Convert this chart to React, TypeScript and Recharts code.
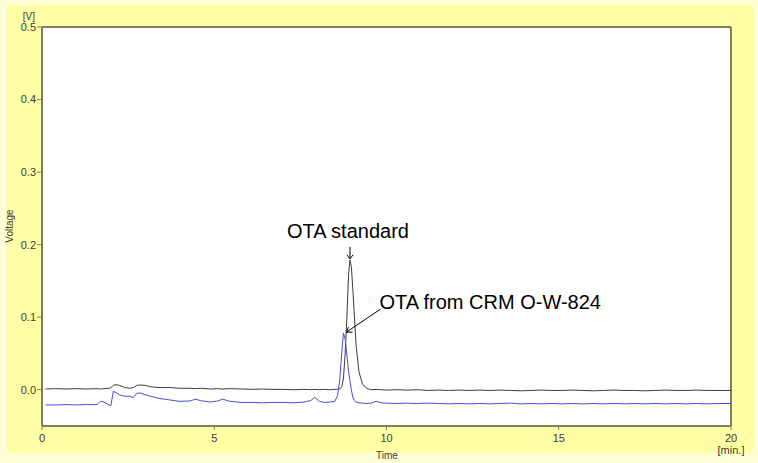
import React from 'react';
import {
  LineChart,
  Line,
  XAxis,
  YAxis,
  CartesianGrid,
  ReferenceLine,
  ReferenceDot,
} from 'recharts';

// retention time [min.]
const times = [
  0.1, 0.4, 0.7, 1.0, 1.3, 1.6, 1.7, 1.8, 1.95, 2.0, 2.07, 2.15, 2.25, 2.4, 2.55, 2.65, 2.75, 2.85,
  3.0, 3.15, 3.4, 3.7, 4.0, 4.3, 4.45, 4.6, 4.9, 5.1, 5.25, 5.45, 5.8, 6.1, 6.4, 6.7, 7.0, 7.3,
  7.6, 7.8, 7.92, 8.05, 8.2, 8.35, 8.5, 8.58, 8.64, 8.7, 8.75, 8.8, 8.85, 8.9, 8.94, 8.98, 9.02,
  9.07, 9.12, 9.2, 9.3, 9.42, 9.55, 9.7, 9.85, 10.0, 10.3, 10.6, 10.9, 11.2, 11.5, 11.8, 12.1,
  12.4, 12.7, 13.0, 13.3, 13.6, 13.9, 14.2, 14.5, 14.8, 15.1, 15.4, 15.7, 16.0, 16.3, 16.6, 16.9,
  17.2, 17.5, 17.8, 18.1, 18.4, 18.7, 19.0, 19.3, 19.6, 20.0,
];

// OTA standard (black trace) [V]
const standard = [
  0.001, 0.0015, 0.001, 0.0015, 0.001, 0.0015, 0.001, 0.0015, 0.002, 0.003, 0.006, 0.007, 0.006,
  0.003, 0.002, 0.003, 0.006, 0.0065, 0.006, 0.004, 0.003, 0.003, 0.002, 0.002, 0.0015, 0.002,
  0.001, 0.0015, 0.001, 0.0015, 0.001, 0.0005, 0.001, 0.0005, 0.0005, 0.0, 0.0005, 0.0, 0.0005,
  0.0, 0.0005, 0.0, 0.0005, 0.0005, 0.001, 0.004, 0.015, 0.05, 0.1, 0.16, 0.179, 0.17, 0.14, 0.1,
  0.06, 0.025, 0.008, 0.002, 0.0, 0.0005, 0.0, -0.0005, 0.0, -0.0005, 0.0, -0.001, -0.0005, -0.001,
  -0.0005, -0.001, -0.0005, -0.001, -0.0005, -0.001, -0.0015, -0.001, -0.0005, -0.001, -0.001,
  -0.0005, -0.001, -0.0015, -0.001, -0.0005, -0.001, -0.001, -0.0015, -0.001, -0.0005, -0.001,
  -0.001, -0.0005, -0.001, -0.001, -0.001,
];

// OTA from CRM O-W-824 (blue trace) [V]
const crm = [
  -0.021, -0.021, -0.0205, -0.021, -0.0205, -0.0205, -0.016, -0.017, -0.021, -0.022, -0.002,
  -0.004, -0.007, -0.009, -0.009, -0.011, -0.005, -0.0045, -0.007, -0.009, -0.012, -0.014, -0.016,
  -0.0155, -0.013, -0.015, -0.017, -0.0155, -0.013, -0.016, -0.0175, -0.0175, -0.018, -0.0175,
  -0.0175, -0.018, -0.017, -0.015, -0.0105, -0.016, -0.0175, -0.017, -0.016, -0.008, 0.012, 0.05,
  0.078, 0.07, 0.048, 0.025, 0.012, 0.0, -0.01, -0.015, -0.017, -0.018, -0.0185, -0.019, -0.0185,
  -0.016, -0.018, -0.0185, -0.019, -0.0185, -0.019, -0.0185, -0.019, -0.0195, -0.019, -0.0195,
  -0.019, -0.0195, -0.019, -0.0185, -0.0195, -0.019, -0.0195, -0.019, -0.0195, -0.019, -0.0195,
  -0.019, -0.0195, -0.019, -0.0195, -0.019, -0.0195, -0.019, -0.0195, -0.019, -0.0195, -0.019,
  -0.0195, -0.019, -0.019,
];

const xTicks = [0, 5, 10, 15, 20];
const yTicks = [0, 0.1, 0.2, 0.3, 0.4, 0.5];

// peak apexes the labels point to
const standardPeak = { time: 8.94, value: 0.179 };
const crmPeak = { time: 8.75, value: 0.078 };

const chartData = times.map((t, i) => ({ time: t, standard: standard[i], crm: crm[i] }));

const FRAME = '#7f7f5c';
const TEXT = '#3a3a3a';
const FONT = '"Liberation Sans", Arial, sans-serif';

const XTick = ({ x, y, payload }: any) => (
  <g>
    <text x={x} y={y} dy="0.71em" textAnchor="middle" fontSize={11} fill={TEXT} fontFamily={FONT}>
      {payload.value}
    </text>
    {payload.value === 20 && (
      <text x={x} y={y + 12} dy="0.71em" textAnchor="middle" fontSize={11} fill={TEXT} fontFamily={FONT}>
        [min.]
      </text>
    )}
  </g>
);

const StandardLabel = ({ cx, cy }: any) => (
  <g>
    <line x1={cx} y1={cy - 13} x2={cx} y2={cy - 1} stroke="#000" strokeWidth={1} />
    <polyline points={`${cx - 3},${cy - 5} ${cx},${cy - 1} ${cx + 3},${cy - 5}`} fill="none" stroke="#000" />
    <text x={cx - 2} y={cy - 22} textAnchor="middle" fontSize={20} fill="#000" fontFamily={FONT}>
      OTA standard
    </text>
  </g>
);

const CrmLabel = ({ cx, cy }: any) => (
  <g>
    <line x1={cx + 37} y1={cy - 24} x2={cx + 3} y2={cy - 1} stroke="#000" strokeWidth={1} />
    <polyline points={`${cx + 5},${cy - 6} ${cx + 3},${cy - 1} ${cx + 9},${cy - 1}`} fill="none" stroke="#000" />
    <text x={cx + 36} y={cy - 24} textAnchor="start" fontSize={20} fill="#000" fontFamily={FONT}>
      OTA from CRM O-W-824
    </text>
  </g>
);

const VoltageLabel = () => (
  <text x={13} y={226} transform="rotate(-90, 13, 226)" textAnchor="middle" fontSize={10} fill={TEXT} fontFamily={FONT}>
    Voltage
  </text>
);

const TimeLabel = () => (
  <text x={387} y={459} textAnchor="middle" fontSize={10} fill={TEXT} fontFamily={FONT}>
    Time
  </text>
);

const App: React.FC = () => {
  return (
    <div style={{ position: 'absolute', left: 0, top: 0, width: 758, height: 463, background: '#ffffd6' }}>
      <div style={{ position: 'absolute', left: 7, top: 5, width: 746, height: 448, background: '#ffffa6' }} />
      <div style={{ position: 'absolute', left: 0, top: 0 }}>
        <LineChart
          width={758}
          height={463}
          data={chartData}
          margin={{ top: 27, right: 27, left: 2, bottom: 0 }}
        >
          <CartesianGrid fill="#ffffff" horizontal={false} vertical={false} />
          <XAxis
            dataKey="time"
            type="number"
            domain={[0, 20]}
            ticks={xTicks}
            height={37}
            tickSize={4}
            tickMargin={4}
            tick={<XTick />}
            axisLine={{ stroke: FRAME, strokeWidth: 2 }}
            tickLine={{ stroke: FRAME }}
            label={{ content: TimeLabel }}
          />
          <YAxis
            type="number"
            domain={[-0.05, 0.5]}
            ticks={yTicks}
            allowDataOverflow
            width={40}
            tickSize={5}
            tickMargin={1}
            tickFormatter={(v: number) => v.toFixed(1)}
            tick={{ fill: TEXT, fontSize: 11, fontFamily: FONT }}
            axisLine={{ stroke: FRAME, strokeWidth: 2 }}
            tickLine={{ stroke: FRAME }}
            label={{ content: VoltageLabel }}
          />
          <ReferenceLine
            y={0.5}
            stroke={FRAME}
            strokeWidth={2}
            label={{ value: '[V]', position: 'left', offset: 7, dy: -11, fontSize: 10, fill: TEXT, fontFamily: FONT }}
          />
          <ReferenceLine x={20} stroke={FRAME} strokeWidth={2} />
          <Line
            dataKey="standard"
            type="linear"
            stroke="#3c3c3c"
            strokeWidth={1}
            dot={false}
            isAnimationActive={false}
          />
          <Line
            dataKey="crm"
            type="linear"
            stroke="#4b4bd8"
            strokeWidth={1}
            dot={false}
            isAnimationActive={false}
          />
          <ReferenceDot x={standardPeak.time} y={standardPeak.value} r={0} shape={StandardLabel} />
          <ReferenceDot x={crmPeak.time} y={crmPeak.value} r={0} shape={CrmLabel} />
        </LineChart>
      </div>
    </div>
  );
};

export default App;
